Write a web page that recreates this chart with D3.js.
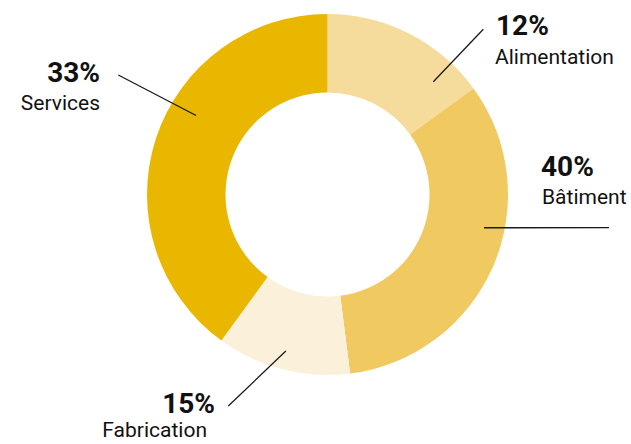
<!DOCTYPE html>
<html>
<head>
<meta charset="utf-8">
<script src="https://cdn.jsdelivr.net/npm/d3@7"></script>
<style>
  html, body { margin: 0; padding: 0; background: #fff; }
  svg { display: block; font-family: Roboto, 'Noto Sans', sans-serif; }
</style>
</head>
<body>
<div id="chart"></div>
<script>
// sectors as drawn, clockwise from 12 o'clock
const sectors = ['Alimentation', 'Bâtiment', 'Fabrication', 'Services']
const shares = [15, 33, 12, 40]
const colours = ['#f6dc9c', '#f0c960', '#fbf0da', '#e9b600']
// percentages printed next to each sector name
const printed = ['12%', '40%', '15%', '33%']

const width = 631
const height = 444
const cx = 327.5
const cy = 194.5
const outerR = 180.5
const innerR = 102

// callout layout: where the leader starts (angle in degrees, radius), where it ends, and text placement
const callouts = [
  { a: 43.2, r: 154.6, end: [483.3, 29.3], anchor: 'start', pct: [496, 35], name: [495, 64] },
  { a: 102, r: 160, end: [609, 227.7], anchor: 'start', pct: [541, 176], name: [542, 204] },
  { a: 194.9, r: 162, end: [228.3, 406], anchor: 'end', pct: [215, 413], name: [207, 437] },
  { a: 301, r: 153.3, end: [118.3, 75], anchor: 'end', pct: [100, 82], name: [100, 110] }
]

const svg = d3.select('#chart')
  .append('svg')
  .attr('width', width)
  .attr('height', height)

const pie = d3.pie().sort(null).value(d => d.v)
const arc = d3.arc().innerRadius(innerR).outerRadius(outerR)
const colour = d3.scaleOrdinal().domain(sectors).range(colours)

const rows = sectors.map((s, i) => ({ name: s, v: shares[i], pct: printed[i] }))

const ring = svg.append('g')
  .attr('transform', `translate(${cx}, ${cy})`)

ring.selectAll('path')
  .data(pie(rows))
  .enter()
  .append('path')
  .attr('d', arc)
  .attr('fill', d => colour(d.data.name))

// leader lines
const polar = (deg, r) => {
  const t = deg * Math.PI / 180
  return [cx + r * Math.sin(t), cy - r * Math.cos(t)]
}

svg.append('g')
  .selectAll('line')
  .data(callouts)
  .enter()
  .append('line')
  .attr('x1', d => polar(d.a, d.r)[0])
  .attr('y1', d => polar(d.a, d.r)[1])
  .attr('x2', d => d.end[0])
  .attr('y2', d => d.end[1])
  .attr('stroke', '#1a1a1a')
  .attr('stroke-width', 1.3)

const labels = svg.append('g')
  .selectAll('g')
  .data(callouts)
  .enter()
  .append('g')

labels.append('text')
  .attr('x', d => d.pct[0])
  .attr('y', d => d.pct[1])
  .attr('text-anchor', d => d.anchor)
  .attr('font-size', 28)
  .attr('font-weight', 700)
  .attr('fill', '#111')
  .text((d, i) => rows[i].pct)

labels.append('text')
  .attr('x', d => d.name[0])
  .attr('y', d => d.name[1])
  .attr('text-anchor', d => d.anchor)
  .attr('font-size', 21)
  .attr('fill', '#111')
  .text((d, i) => rows[i].name)
</script>
</body>
</html>
